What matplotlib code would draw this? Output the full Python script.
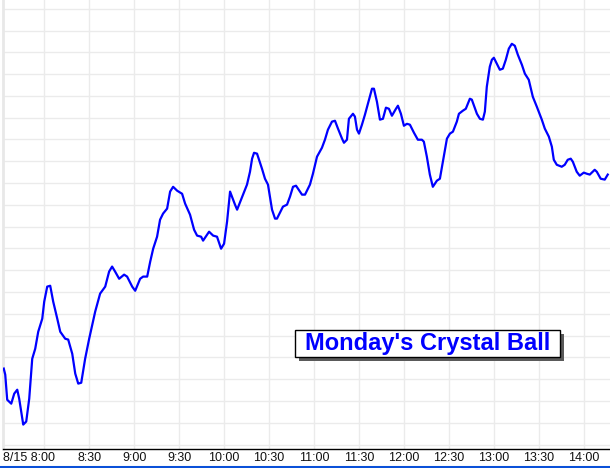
import matplotlib.pyplot as plt
from matplotlib.lines import Line2D
from matplotlib.patches import Rectangle
from matplotlib.transforms import ScaledTranslation

# minutes after 8:00 and price level (grid units)
minutes = [-27, -26, -24.7, -22, -20, -18, -16.7, -14, -12, -10, -8, -6, -4, -1.3, 0, 2, 4, 6,
           8.7, 10.7, 14, 16, 18.7, 20.7, 22.7, 24.7, 27.3, 30, 34, 37.3, 40.7, 43.3, 45.3, 47.3,
           50, 53.3, 55.3, 58.7, 60.7, 64, 66, 68.7, 70.7, 72.7, 75.3, 77.3, 79.3, 82, 84, 86,
           88.7, 92, 94, 97.3, 100, 102, 104.7, 106, 110, 112.7, 115.3, 118, 120, 122, 124,
           127.3, 128.7, 132.7, 135.3, 137.3, 138.7, 140, 142, 145.3, 147.3, 149.3, 152, 154,
           155.3, 159.3, 162, 164, 166, 168, 172, 174, 177.3, 179.3, 182, 185.3, 187.3, 189.3,
           192, 194, 196, 198.7, 200, 202, 203.3, 206, 207.3, 208.7, 210, 212, 214, 216, 218.7,
           220, 222, 224, 226, 228, 230, 232, 234.7, 236, 238, 240, 242, 244, 246.7, 249.3, 252,
           253.3, 255.3, 257.3, 259.3, 262, 264, 266, 268.7, 270.7, 272.7, 275.3, 276.7, 279.3,
           281.3, 284, 285.3, 288.7, 290.7, 292.7, 294, 295.3, 297.3, 298.7, 300, 302, 304, 306,
           308, 310, 312, 314, 316, 318.7, 320.7, 323.3, 326, 328.7, 332, 334, 336.7, 338.7, 340,
           342, 345.3, 347.3, 349.3, 351.3, 352.7, 355.3, 357.3, 360, 362, 364, 367.3, 368.7,
           371.3, 374, 376]
prices = [3.49, 3.21, 2.06, 1.88, 2.34, 2.52, 2.11, 0.92, 1.06, 2.11, 3.94, 4.40, 5.18, 5.78,
          6.56, 7.25, 7.29, 6.56, 5.78, 5.18, 4.86, 4.82, 4.17, 3.26, 2.80, 2.84, 3.94, 4.86,
          6.10, 6.93, 7.25, 7.94, 8.17, 7.94, 7.61, 7.80, 7.71, 7.25, 7.06, 7.61, 7.71, 7.71,
          8.39, 8.99, 9.54, 10.32, 10.60, 10.83, 11.61, 11.83, 11.65, 11.51, 11.06, 10.55, 9.86,
          9.59, 9.54, 9.36, 9.77, 9.59, 9.54, 8.99, 9.22, 10.23, 11.61, 11.01, 10.78, 11.47,
          11.93, 12.52, 13.12, 13.39, 13.35, 12.66, 12.20, 11.93, 10.78, 10.37, 10.37, 10.92,
          11.01, 11.38, 11.83, 11.88, 11.47, 11.47, 11.93, 12.43, 13.21, 13.62, 13.99, 14.45,
          14.82, 14.86, 14.50, 14.04, 13.85, 13.99, 14.95, 15.18, 15.05, 14.45, 14.27, 14.68,
          15.14, 15.64, 16.33, 16.33, 15.73, 14.91, 14.95, 15.46, 15.41, 15.09, 15.41, 15.55,
          15.18, 14.63, 14.72, 14.68, 14.31, 13.99, 13.99, 13.90, 13.21, 12.39, 11.83, 12.11,
          12.20, 12.98, 14.04, 14.27, 14.36, 14.82, 15.18, 15.32, 15.41, 15.87, 15.83, 15.18,
          14.95, 14.91, 15.28, 16.42, 17.34, 17.66, 17.75, 17.48, 17.20, 17.25, 17.66, 18.17,
          18.39, 18.30, 17.89, 17.43, 17.02, 16.74, 15.96, 15.50, 14.91, 14.50, 14.13, 13.67,
          13.07, 12.84, 12.75, 12.84, 13.07, 13.12, 12.98, 12.52, 12.34, 12.48, 12.43, 12.39,
          12.61, 12.52, 12.20, 12.16, 12.39]

tick_pos = [0, 30, 60, 90, 120, 150, 180, 210, 240, 270, 300, 330, 360]
tick_labels = ['8/15 8:00', '8:30', '9:00', '9:30', '10:00', '10:30', '11:00',
               '11:30', '12:00', '12:30', '13:00', '13:30', '14:00']

plt.rcParams['font.family'] = ['Liberation Sans', 'DejaVu Sans']

W, H = 610, 468
fig = plt.figure(figsize=(W / 100, H / 100), dpi=100)
ax = fig.add_axes([3 / W, 19 / H, 607 / W, 449 / H])

ax.plot(minutes, prices, color='#0000ff', linewidth=1.6, zorder=3)

ax.set_xlim(-27.5, 377.5)
ax.set_ylim(-0.2, 20.4)
ax.set_xticks(tick_pos)
ax.set_xticklabels(tick_labels, fontsize=9, color='#111111')
ax.set_yticks(range(0, 21))
ax.tick_params(axis='x', length=0, pad=2.5)
ax.tick_params(axis='y', length=0, labelleft=False)
ax.grid(True, color='#ebebeb', linewidth=1)
ax.set_axisbelow(True)

# first label sits mostly left of its tick
first = ax.get_xticklabels()[0]
first.set_horizontalalignment('right')
first.set_transform(first.get_transform() + ScaledTranslation(11 / 100, 0, fig.dpi_scale_trans))

for s in ['top', 'right']:
    ax.spines[s].set_visible(False)
ax.spines['left'].set_color('#e8e8e8')
ax.spines['left'].set_linewidth(2)
ax.spines['bottom'].set_color('black')
ax.spines['bottom'].set_linewidth(1)

# label box with drop shadow (figure pixel coords, y from bottom)
bx0, bx1, by0, by1 = 295, 560, H - 357, H - 330
fig.add_artist(Rectangle((bx0 + 4, by0 - 4), bx1 - bx0, by1 - by0, transform=None,
                         facecolor='#5a5a5a', edgecolor='none'))
fig.add_artist(Rectangle((bx0, by0), bx1 - bx0, by1 - by0, transform=None,
                         facecolor='white', edgecolor='black', linewidth=1))
fig.text((bx0 + bx1) / 2 / W, (by0 + by1) / 2 / H, "Monday's Crystal Ball", color='#0000ff',
         fontsize=17, fontweight='bold', ha='center', va='center')

fig.add_artist(Line2D([0, 1], [1.5 / H, 1.5 / H], color='#0a50d8', linewidth=2.2))

fig.savefig('out.png', dpi=100)
